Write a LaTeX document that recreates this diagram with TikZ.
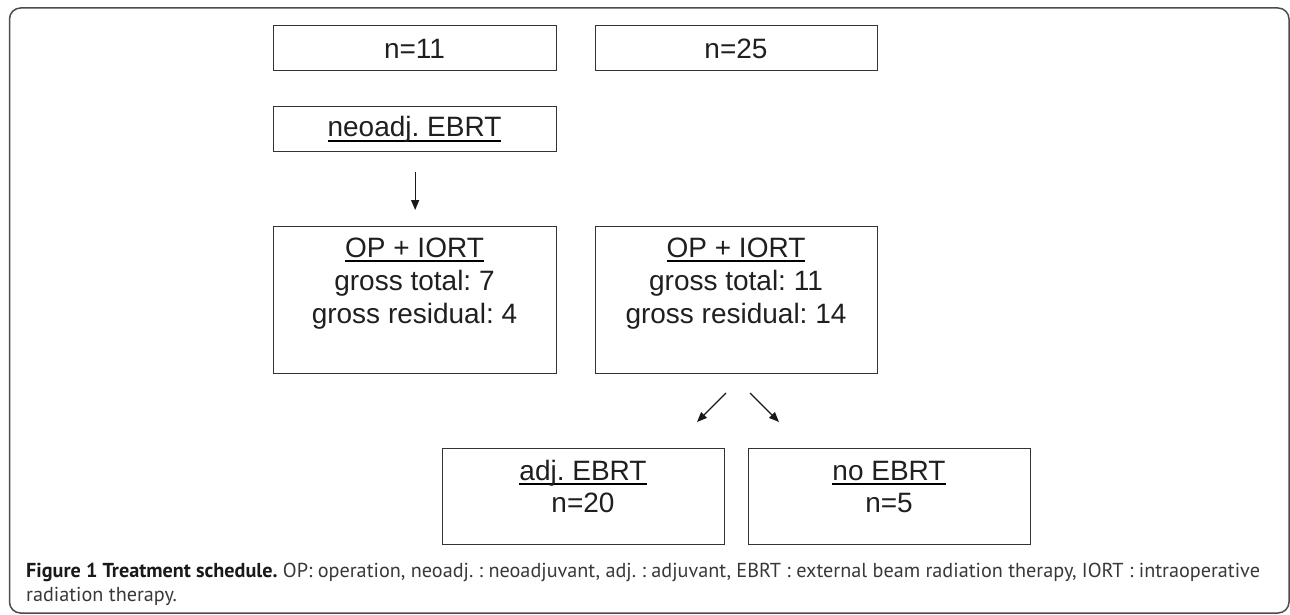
\documentclass[tikz,border=0pt]{standalone}
\usepackage{fontspec}
\setmainfont{Liberation Sans}
\newfontfamily\capfont{PT Sans}
\usetikzlibrary{arrows.meta}
\frenchspacing
\newcommand\ulx[1]{\setbox0\hbox{#1}\rlap{\color{black}\rule[-5pt]{\wd0}{1.9pt}}\box0}
\tikzset{
  box/.style={draw=black!80, line width=1.3pt, rectangle, inner sep=0pt, anchor=north west},
  txt/.style={anchor=base, inner sep=0pt, font=\fontsize{28}{33}\selectfont, text=black!88},
  arr/.style={draw=black!90, line width=1.3pt, -{Triangle[length=10pt,width=8pt]}},
  captxt/.style={anchor=base west, inner sep=0pt, font=\capfont\fontsize{20.2}{24}\selectfont, text=black!78},
}
\begin{document}
\begin{tikzpicture}[x=1pt,y=-1pt]
\useasboundingbox (0,0) rectangle (1290,615);
% frame
\draw[black!70, line width=1.5pt, rounded corners=11pt] (9.5,8) rectangle (1289,613);
% boxes
\node[box, minimum width=283pt, minimum height=45pt] (b11) at (273,25) {};
\node[box, minimum width=282pt, minimum height=45pt] (b25) at (595,25) {};
\node[box, minimum width=283pt, minimum height=45pt] (neo) at (273,106) {};
\node[box, minimum width=283pt, minimum height=147pt] (op1) at (273,226) {};
\node[box, minimum width=282pt, minimum height=147pt] (op2) at (595,226) {};
\node[box, minimum width=282pt, minimum height=96pt] (adj) at (442,448) {};
\node[box, minimum width=282pt, minimum height=96pt] (noe) at (748,448) {};
% texts
\node[txt] (t11) at (414.5,59) {n=11};
\node[txt] (t25) at (736,59) {n=25};
\node[txt] (tneo) at (414.5,137) {\ulx{neoadj. EBRT}};
\node[txt] (top1a) at (414.5,257) {\ulx{OP + IORT}};
\node[txt] (top1b) at (414.5,290) {gross total: 7};
\node[txt] (top1c) at (414.5,323) {gross residual: 4};
\node[txt] (top2a) at (736,257) {\ulx{OP + IORT}};
\node[txt] (top2b) at (736,290) {gross total: 11};
\node[txt] (top2c) at (736,323) {gross residual: 14};
\node[txt] (tadja) at (583,480) {\ulx{adj. EBRT}};
\node[txt] (tadjb) at (583,512) {n=20};
\node[txt] (tnoea) at (889,480) {\ulx{no EBRT}};
\node[txt] (tnoeb) at (889,512) {n=5};
% arrows
\draw[arr, shorten <=20pt, shorten >=16pt] (neo.south) -- (neo.south |- op1.north);
\coordinate (l1) at (726,393);
\coordinate (l2) at (697,422);
\coordinate (r1) at (750,393);
\coordinate (r2) at (779,422);
\draw[arr] (l1) -- (l2);
\draw[arr] (r1) -- (r2);
% caption
\node[captxt] (c1) at (26,577) {{\bfseries\color{black!90}Figure 1 Treatment schedule.} OP: operation, neoadj. : neoadjuvant, adj. : adjuvant, EBRT : external beam radiation therapy, IORT : intraoperative};
\node[captxt] (c2) at (26,601) {radiation therapy.};
\end{tikzpicture}
\end{document}
